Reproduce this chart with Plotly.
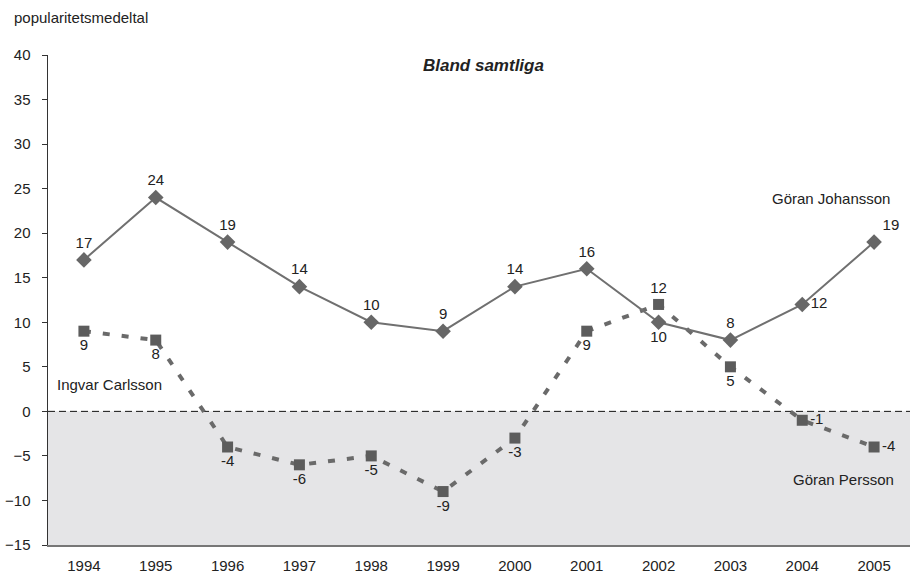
import plotly.graph_objects as go

years = ["1994", "1995", "1996", "1997", "1998", "1999", "2000", "2001", "2002", "2003", "2004", "2005"]
johansson = [17, 24, 19, 14, 10, 9, 14, 16, 10, 8, 12, 19]
persson = [9, 8, -4, -6, -5, -9, -3, 9, 12, 5, -1, -4]
johansson_pos = ["top center"] * 8 + ["bottom center", "top center", "middle right", "top right"]
persson_pos = ["bottom center"] * 8 + ["top center", "bottom center", "middle right", "middle right"]
y_ticks = [-15, -10, -5, 0, 5, 10, 15, 20, 25, 30, 35, 40]

FONT = "Liberation Sans, Arial, sans-serif"
TXT = "#222222"

fig = go.Figure()

# shaded negative region
fig.add_shape(type="rect", xref="x", yref="y", x0=-0.5, x1=11.5, y0=-15, y1=0,
              fillcolor="#e5e5e7", line_width=0, layer="below")
fig.add_shape(type="line", xref="x", yref="y", x0=-0.5, x1=11.5, y0=0, y1=0,
              line=dict(color="#111111", width=1, dash="7px,4px"), layer="below")

fig.add_trace(go.Scatter(
    x=list(range(len(years))), y=persson, mode="lines+markers+text",
    line=dict(color="#6a6a6a", width=4, dash="7px,12px"),
    marker=dict(symbol="square", size=11, color="#5c5c5c"),
    text=[str(v) for v in persson], textposition=persson_pos,
    textfont=dict(family=FONT, size=15, color=TXT),
    showlegend=False, cliponaxis=False, hoverinfo="skip"))

fig.add_trace(go.Scatter(
    x=list(range(len(years))), y=johansson, mode="lines+markers+text",
    line=dict(color="#707070", width=2),
    marker=dict(symbol="diamond", size=12, color="#676767"),
    text=[str(v) for v in johansson], textposition=johansson_pos,
    textfont=dict(family=FONT, size=15, color=TXT),
    showlegend=False, cliponaxis=False, hoverinfo="skip"))

annos = [
    dict(x=10.4, y=23.9, text="Göran Johansson"),
    dict(x=0.36, y=3.0, text="Ingvar Carlsson"),
    dict(x=10.58, y=-7.7, text="Göran Persson"),
]
for a in annos:
    fig.add_annotation(x=a["x"], y=a["y"], xref="x", yref="y", text=a["text"], showarrow=False,
                       yanchor="middle", xanchor="center",
                       font=dict(family=FONT, size=15, color=TXT))

fig.add_annotation(x=483, y=65, xref="paper", yref="paper", text="<b><i>Bland samtliga</i></b>",
                   showarrow=False, xanchor="center", yanchor="middle",
                   font=dict(family=FONT, size=17, color=TXT))
fig.add_annotation(x=12, y=18, xref="paper", yref="paper", text="popularitetsmedeltal",
                   showarrow=False, xanchor="left", yanchor="middle",
                   font=dict(family=FONT, size=15, color=TXT))

W, H = 910, 579
ML, MR, MT, MB = 48, 0, 55, 34
# convert pixel annotations to paper coords
for ann in fig.layout.annotations:
    if ann.xref == "paper":
        ann.x = (ann.x - ML) / (W - ML - MR)
        ann.y = 1 - (ann.y - MT) / (H - MT - MB)

fig.update_layout(
    width=W, height=H, margin=dict(l=ML, r=MR, t=MT, b=MB),
    plot_bgcolor="white", paper_bgcolor="white",
    font=dict(family=FONT, size=15, color=TXT),
    hovermode=False,
    xaxis=dict(tickmode="array", tickvals=list(range(len(years))), ticktext=years,
               range=[-0.5, 11.5], showgrid=False, zeroline=False,
               showline=True, linecolor="#777777", linewidth=1.5, ticks="",
               ticklabelstandoff=6, fixedrange=True),
    yaxis=dict(range=[-15, 40], tickvals=y_ticks, showgrid=False, zeroline=False,
               showline=True, linecolor="#333333", linewidth=1.5, ticks="outside",
               ticklen=5, tickcolor="#333333", ticklabelstandoff=8, fixedrange=True),
)

fig.write_html("out.html", config={"displayModeBar": False, "staticPlot": True},
               post_script="document.body.style.margin='0';document.body.style.overflow='hidden';")
